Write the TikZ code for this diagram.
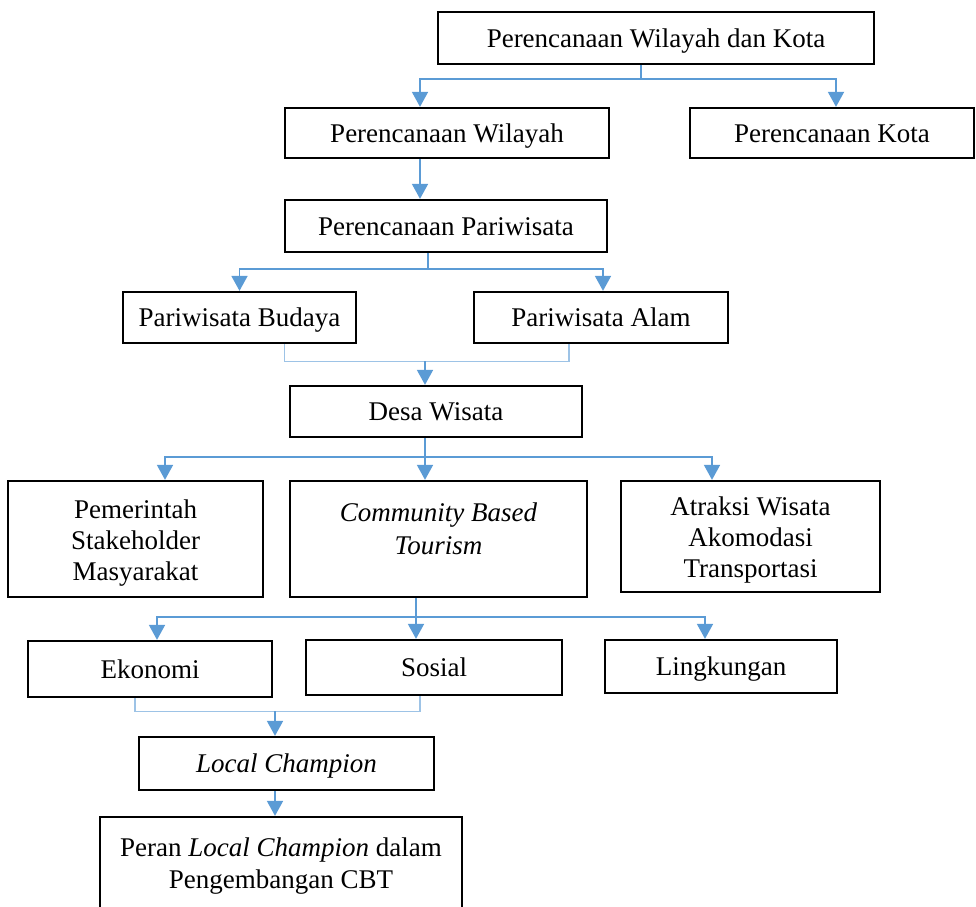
\documentclass[tikz,border=0pt]{standalone}
\usepackage{fontspec}
\setmainfont{Liberation Serif}
\usetikzlibrary{arrows.meta}
\definecolor{linkblue}{HTML}{5B9BD5}
\definecolor{joinblue}{HTML}{9DC3E6}
% strut that centres a single line of capitals in its box
\newcommand{\boxstrut}{\rule[-12pt]{0pt}{42pt}}
\begin{document}
\begin{tikzpicture}[x=1pt,y=-1pt,
  box/.style={draw=black, line width=2.3pt, inner sep=0pt, align=center,
    font=\fontsize{27}{31}\selectfont, execute at begin node={\boxstrut}},
  txt/.style={inner sep=0pt, align=center, font=\fontsize{27}{31}\selectfont},
  link/.style={draw=linkblue, line width=1.8pt, -{Triangle[width=16pt,length=15pt]}},
  bus/.style={draw=linkblue, line width=1.3pt},
  mergeline/.style={draw=joinblue, line width=1.3pt}]
\useasboundingbox (0,0) rectangle (976,906);

% boxes
\node[box, minimum width=436pt, minimum height=52pt] (root) at (656,38) {Perencanaan Wilayah dan Kota};
\node[box, minimum width=324pt, minimum height=50pt] (pw) at (447,133) {Perencanaan Wilayah};
\node[box, minimum width=284pt, minimum height=50pt] (pk) at (832,133) {Perencanaan Kota};
\node[box, minimum width=322pt, minimum height=52pt] (pp) at (446,226) {Perencanaan Pariwisata};
\node[box, minimum width=233pt, minimum height=51pt] (pb) at (239.5,317.5) {Pariwisata Budaya};
\node[box, minimum width=254pt, minimum height=51pt] (pa) at (601,317.5) {Pariwisata Alam};
\node[box, minimum width=292pt, minimum height=51pt] (dw) at (436,411.5) {Desa Wisata};
\node[box, minimum width=255pt, minimum height=116pt] (pem) at (135.5,539) {};
\node[txt] (pemtext) at (135.5,543) {Pemerintah\\Stakeholder\\Masyarakat};
\node[box, minimum width=297pt, minimum height=116pt] (cbt) at (438.5,539) {};
\node[txt, font=\fontsize{27}{32.5}\selectfont] (cbttext) at (438.5,529) {\textit{Community Based}\\\textit{Tourism}};
\node[box, minimum width=259pt, minimum height=111pt] (atr) at (750.5,536.5) {};
\node[txt] (atrtext) at (750.5,540) {Atraksi Wisata\\Akomodasi\\Transportasi};
\node[box, minimum width=244pt, minimum height=56pt] (eko) at (150,669) {Ekonomi};
\node[box, minimum width=256pt, minimum height=55pt] (sos) at (434,667.5) {Sosial};
\node[box, minimum width=232pt, minimum height=53pt] (lin) at (721,666.5) {Lingkungan};
\node[box, minimum width=295pt, minimum height=53pt] (lc) at (286.5,763.5) {\textit{Local Champion}};
\node[box, minimum width=362pt, minimum height=120pt] (per) at (281,877) {};
\node[txt, font=\fontsize{27}{32.5}\selectfont] (pertext) at (281,866) {Peran \textit{Local Champion} dalam\\Pengembangan CBT};

% root splits into region and city planning
\draw[bus] ([xshift=-15pt]root.south) -- ++(0,14) coordinate (j1);
\draw[link] (j1) -| ([xshift=-27pt]pw.north);
\draw[link] (j1) -| ([xshift=4pt]pk.north);

% region planning to tourism planning
\draw[link] ([xshift=-27pt]pw.south) -- ([xshift=-27pt]pw.south |- pp.north);

% tourism planning splits
\draw[bus] ([xshift=-18pt]pp.south) -- ++(0,16) coordinate (j2);
\draw[link] (j2) -| (pb.north);
\draw[link] (j2) -| ([xshift=2pt]pa.north);

% cultural and nature tourism merge into tourism village
\draw[mergeline] ([xshift=45pt]pb.south) -- ++(0,17) coordinate (m1) -| ([xshift=-32pt]pa.south);
\draw[link] ([xshift=-11pt]dw.north |- m1) -- ([xshift=-11pt]dw.north);

% tourism village splits three ways
\draw[bus] ([xshift=-11pt]dw.south) -- ++(0,19) coordinate (j3);
\draw[link] (j3) -| ([xshift=29.5pt]pem.north);
\draw[link] (j3) -- ([xshift=-13.5pt]cbt.north);
\draw[link] (j3) -| ([xshift=-38.5pt]atr.north);

% CBT splits into the three pillars
\draw[bus] ([xshift=-22.5pt]cbt.south) -- ++(0,19) coordinate (j4);
\draw[link] (j4) -| ([xshift=7pt]eko.north);
\draw[link] (j4) -- ([xshift=-18pt]sos.north);
\draw[link] (j4) -| ([xshift=-16pt]lin.north);

% economy and social merge into local champion
\draw[mergeline] ([xshift=-15pt]eko.south) -- ++(0,13) coordinate (m2) -| ([xshift=-14pt]sos.south);
\draw[link] ([xshift=-11.5pt]lc.north |- m2) -- ([xshift=-11.5pt]lc.north);

% local champion to its role
\draw[link] ([xshift=-11.5pt]lc.south) -- ([xshift=-11.5pt]lc.south |- per.north);
\end{tikzpicture}
\end{document}
